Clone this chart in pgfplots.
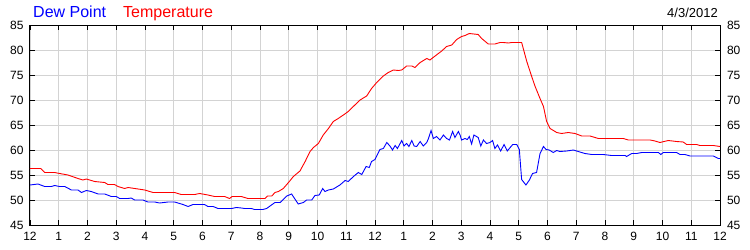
\documentclass[border=0pt]{standalone}
\usepackage{fontspec}
\setmainfont{Liberation Sans}
\usepackage{pgfplots}
\pgfplotsset{compat=1.18}
\definecolor{gridgray}{RGB}{211,211,211}
\begin{document}
\begin{tikzpicture}
\pgfplotsset{
  base/.style={
    at={(0,0)}, anchor=south west,
    scale only axis, width=690bp, height=200bp,
    xmin=0, xmax=24, ymin=45, ymax=85,
    ytick={45,50,...,85},
    /pgf/number format/assume math mode=true,
    tick label style={font=\fontsize{12bp}{14bp}\selectfont, text=black},
  }
}
\begin{axis}[base,
  xtick={0,...,24},
  xticklabels={12,1,2,3,4,5,6,7,8,9,10,11,12,1,2,3,4,5,6,7,8,9,10,11,12},
  grid=major, grid style={color=gridgray, line width=0.9bp},
  tick align=inside, major tick length=5bp,
  tick style={black, line width=0.9bp},
  axis line style={black, line width=1bp},
  yticklabel style={xshift=-3bp},
  xticklabel style={yshift=-3.5bp},
]
\addplot[red, line width=0.9bp] coordinates {
(0,56.3) (0.37,56.3) (0.51,55.5) (0.86,55.5) (1.03,55.3) (1.32,55.0) (1.67,54.3) (1.84,54.0) (1.96,54.2)
(2.25,53.7) (2.6,53.5) (2.71,53.1) (2.94,53.1) (3.06,52.7) (3.29,52.3) (3.41,52.5) (3.76,52.2) (3.99,52.0)
(4.28,51.5) (5.03,51.5) (5.26,51.1) (5.73,51.1) (5.9,51.3) (6.19,51.0) (6.42,50.7) (6.77,50.7) (6.94,50.3)
(7.03,50.7) (7.35,50.7) (7.58,50.3) (8.0,50.3) (8.17,50.3) (8.26,50.8) (8.41,50.8) (8.52,51.5) (8.64,51.7)
(8.81,52.3) (9.02,53.7) (9.16,54.7) (9.39,55.8) (9.57,57.7) (9.74,59.7) (9.86,60.5) (10.03,61.3) (10.20,63.0)
(10.38,64.3) (10.55,65.7) (10.72,66.3) (10.90,67.0) (11.07,67.7) (11.30,69.0) (11.48,70.0) (11.71,70.8)
(11.88,72.3) (12.06,73.5) (12.29,74.8) (12.46,75.5) (12.64,76.0) (12.81,75.9) (12.93,76.0) (13.10,76.8)
(13.28,76.8) (13.39,76.5) (13.57,77.5) (13.80,78.3) (13.91,78.0) (14.09,78.8) (14.32,79.8) (14.49,80.7)
(14.67,81.0) (14.84,82.1) (15.01,82.7) (15.13,82.9) (15.28,83.3) (15.59,83.1) (15.71,82.3) (15.94,81.2)
(16.17,81.2) (16.35,81.5) (16.46,81.5) (16.64,81.4) (16.75,81.5) (17.10,81.5) (17.28,77.7) (17.45,74.7)
(17.57,72.7) (17.74,70.3) (17.86,68.7) (17.97,65.7) (18.09,64.3) (18.32,63.5) (18.49,63.3) (18.72,63.5)
(18.96,63.3) (19.19,62.8) (19.48,62.8) (19.77,62.3) (20.64,62.3) (20.81,62.0) (21.57,62.0) (21.74,61.8)
(21.91,61.5) (22.20,61.9) (22.49,61.7) (22.72,61.6) (22.84,61.1) (23.19,61.1) (23.30,60.9) (23.77,60.9) (24.0,60.7)
};
\addplot[blue, line width=0.9bp] coordinates {
(0,53.0) (0.28,53.2) (0.51,52.7) (0.74,52.7) (0.86,52.9) (1.03,52.7) (1.21,52.7) (1.44,52.0) (1.67,52.0)
(1.79,51.5) (1.96,51.9) (2.13,51.7) (2.37,51.2) (2.60,51.2) (2.83,50.7) (3.00,50.7) (3.12,50.3) (3.41,50.3)
(3.52,50.4) (3.64,50.0) (3.93,50.0) (4.10,49.6) (4.34,49.6) (4.51,49.4) (4.80,49.6) (5.03,49.6) (5.32,49.1)
(5.50,48.7) (5.67,49.1) (6.07,49.1) (6.19,48.7) (6.37,48.7) (6.54,48.3) (7.01,48.3) (7.18,48.5) (7.35,48.4)
(7.47,48.3) (7.70,48.3) (7.81,48.1) (8.10,48.1) (8.23,48.3) (8.35,48.8) (8.52,49.5) (8.70,49.5) (8.93,50.8)
(9.10,51.2) (9.33,49.2) (9.51,49.5) (9.62,50.0) (9.80,50.0) (9.91,50.9) (10.06,51.0) (10.18,52.3) (10.26,51.7)
(10.38,52.0) (10.55,52.2) (10.78,53.0) (10.96,53.9) (11.07,53.7) (11.25,54.7) (11.42,55.5) (11.54,55.1)
(11.69,56.7) (11.80,56.5) (11.88,57.7) (12.00,58.1) (12.17,60.1) (12.29,60.3) (12.41,61.5) (12.52,60.8)
(12.61,60.0) (12.70,60.9) (12.78,60.3) (12.93,61.9) (13.01,60.8) (13.10,61.3) (13.18,60.7) (13.28,61.9)
(13.36,60.8) (13.45,60.7) (13.57,61.7) (13.68,60.8) (13.80,61.5) (13.86,62.3) (13.95,63.9) (14.03,62.3)
(14.14,62.7) (14.26,62.0) (14.38,63.0) (14.49,62.3) (14.59,62.0) (14.70,63.7) (14.78,62.5) (14.90,63.7)
(14.96,63.0) (15.01,62.0) (15.13,62.3) (15.21,62.1) (15.28,62.7) (15.36,61.2) (15.44,63.0) (15.59,62.5)
(15.68,60.8) (15.77,62.0) (15.88,61.3) (16.00,61.5) (16.09,61.9) (16.17,60.3) (16.26,61.0) (16.37,59.8)
(16.49,61.1) (16.60,59.8) (16.79,61.1) (16.93,61.1) (17.02,60.1) (17.10,54.1) (17.25,53.0) (17.37,54.0)
(17.48,55.3) (17.62,55.5) (17.74,59.3) (17.86,60.7) (17.95,60.1) (18.06,60.0) (18.20,59.5) (18.32,59.9)
(18.43,59.7) (18.67,59.8) (18.90,60.0) (19.07,59.7) (19.30,59.3) (19.54,59.1) (19.94,59.1) (20.23,58.9)
(20.70,58.9) (20.75,58.7) (20.93,59.3) (21.10,59.3) (21.28,59.5) (21.86,59.5) (21.94,59.1) (22.03,59.5)
(22.49,59.5) (22.61,59.1) (22.78,59.1) (22.96,58.8) (23.77,58.8) (23.94,58.3) (24.00,58.3)
};
\end{axis}
\begin{axis}[base,
  hide x axis,
  axis y line*=right,
  y axis line style={draw=none},
  ytick style={draw=none},
  yticklabel style={xshift=3.5bp},
]
\addplot[draw=none] coordinates {(0,45) (24,85)};
\end{axis}
\node[anchor=base west, inner sep=0, text=blue, font=\fontsize{16bp}{18bp}\selectfont] at (3bp,207bp) {Dew Point};
\node[anchor=base west, inner sep=0, text=red, font=\fontsize{16bp}{18bp}\selectfont] at (93bp,207bp) {Temperature};
\node[anchor=base east, inner sep=0, text=black, font=\fontsize{13bp}{15bp}\selectfont] at (688bp,207.5bp) {4/3/2012};
\pgfresetboundingbox
\path[use as bounding box] (-30bp,-25bp) rectangle (720bp,225bp);
\end{tikzpicture}
\end{document}
